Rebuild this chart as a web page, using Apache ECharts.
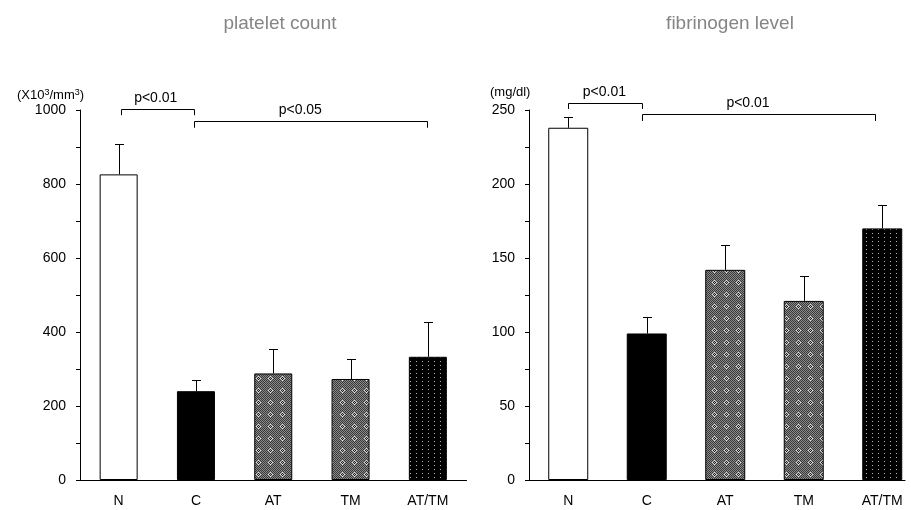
<!DOCTYPE html>
<html>
<head>
<meta charset="utf-8">
<script src="https://cdn.jsdelivr.net/npm/echarts@6/dist/echarts.min.js"></script>
<style>
html,body{margin:0;padding:0;background:#fff;}
#chart{width:911px;height:510px;}
</style>
</head>
<body>
<div id="chart"></div>
<script>
// ---------- data ----------
const categories = ['N', 'C', 'AT', 'TM', 'AT/TM'];
const plateletMean = [826, 240, 288, 273, 333];
const plateletSD = [83, 29, 66, 53, 93];
const fibrinogenMean = [238, 99, 142, 121, 170];
const fibrinogenSD = [7, 11, 17, 17, 16];
const plateletTicks = { min: 0, max: 1000, interval: 200 };
const fibrinogenTicks = { min: 0, max: 250, interval: 50 };
// brackets: [from category pos, to category pos, line level, drop level, text pos, label]
const plateletBrackets = [
  [0.03, 0.98, 1002, 986, 0.48, 'p<0.01'],
  [0.98, 3.99, 969, 952, 2.35, 'p<0.05']
];
const fibrinogenBrackets = [
  [0.0, 0.94, 254.7, 250.7, 0.46, 'p<0.01'],
  [0.94, 3.91, 247.3, 242.6, 2.29, 'p<0.01']
];

// ---------- patterns ----------
function makeChecker() {
  const c = document.createElement('canvas');
  c.width = 12; c.height = 12;
  const g = c.getContext('2d');
  for (let y = 0; y < 12; y++) for (let x = 0; x < 12; x++) {
    g.fillStyle = ((x + y) % 2 === 0) ? '#3a3a3a' : '#888888';
    g.fillRect(x, y, 1, 1);
  }
  const cx = 6, cy = 6;
  for (let dy = -2; dy <= 2; dy++) for (let dx = -2; dx <= 2; dx++) {
    const d = Math.abs(dx) + Math.abs(dy);
    if (d === 2 && (dx === 0 || dy === 0)) { g.fillStyle = '#e8e8e8'; g.fillRect(cx + dx, cy + dy, 1, 1); }
    else if (d === 2) { g.fillStyle = '#c4c4c4'; g.fillRect(cx + dx, cy + dy, 1, 1); }
    else if (d === 1) { g.fillStyle = '#1a1a1a'; g.fillRect(cx + dx, cy + dy, 1, 1); }
    else if (d === 0) { g.fillStyle = '#b0b0b0'; g.fillRect(cx + dx, cy + dy, 1, 1); }
  }
  return c;
}
function makeDots() {
  const c = document.createElement('canvas');
  c.width = 6; c.height = 4;
  const g = c.getContext('2d');
  g.fillStyle = '#000'; g.fillRect(0, 0, 6, 4);
  g.fillStyle = '#b4b4b4'; g.fillRect(2, 1, 1, 1);
  return c;
}
const checker = makeChecker();
const dots = makeDots();
const fills = ['#ffffff', '#000000', { image: checker, repeat: 'repeat' }, { image: checker, repeat: 'repeat' }, { image: dots, repeat: 'repeat' }];

const FONT = "'Liberation Sans', Arial, Helvetica, sans-serif";

function barSeries(means, idx, bw) {
  return {
    type: 'bar', xAxisIndex: idx, yAxisIndex: idx, barWidth: bw,
    data: means.map((v, i) => ({ value: [i, v], itemStyle: { color: fills[i] } })),
    itemStyle: { borderColor: '#000', borderWidth: 1 },
    silent: true, animation: false, z: 2
  };
}
function errSeries(means, sds, idx) {
  return {
    type: 'custom', xAxisIndex: idx, yAxisIndex: idx, z: 3, animation: false, silent: true,
    dimensions: ['x', 'm', 's'],
    encode: { x: 0, y: 1 },
    data: means.map((v, i) => [i, v, sds[i]]),
    renderItem: function (params, api) {
      const x = api.value(0), m = api.value(1), s = api.value(2);
      const p0 = api.coord([x, m]);
      const p1 = api.coord([x, m + s]);
      const st = { stroke: '#000', lineWidth: 1 };
      const lx = Math.round(p0[0]) + 0.5;
      const ty = Math.round(p1[1]) + 0.5;
      return { type: 'group', children: [
        { type: 'line', shape: { x1: lx, y1: p0[1], x2: lx, y2: ty }, style: st },
        { type: 'line', shape: { x1: lx - 4.5, y1: ty, x2: lx + 4.5, y2: ty }, style: st }
      ]};
    }
  };
}
function bracketSeries(brackets, idx) {
  return {
    type: 'custom', xAxisIndex: idx, yAxisIndex: idx, z: 4, animation: false, silent: true, clip: false,
    dimensions: ['a', 'b', 'y', 'd', 't'],
    encode: { x: [0, 1, 4], y: [2, 3] },
    data: brackets.map(b => [b[0], b[1], b[2], b[3], b[4]]),
    renderItem: function (params, api) {
      const a = api.coord([api.value(0), api.value(2)]);
      const b = api.coord([api.value(1), api.value(2)]);
      const ad = api.coord([api.value(0), api.value(3)]);
      const t = api.coord([api.value(4), api.value(2)]);
      const y = Math.round(a[1]) + 0.5;
      const ax = Math.round(a[0]) + 0.5, bx = Math.round(b[0]) + 0.5;
      return { type: 'group', children: [
        { type: 'polyline', shape: { points: [[ax, ad[1]], [ax, y], [bx, y], [bx, ad[1]]] },
          style: { stroke: '#000', lineWidth: 1, fill: null } },
        { type: 'text', style: { text: brackets[params.dataIndex][5], x: t[0], y: y - 11, align: 'center', verticalAlign: 'middle',
          font: '14px ' + FONT, fill: '#000' } }
      ]};
    }
  };
}
function xAxis(idx, max) {
  return {
    type: 'value', gridIndex: idx, min: -0.5, max: max,
    axisLine: { show: true, onZero: false, lineStyle: { color: '#000', width: 1 } },
    axisTick: { show: false },
    splitLine: { show: false },
    axisLabel: { customValues: [0, 1, 2, 3, 4], formatter: v => categories[Math.round(v)] || '',
      color: '#000', fontSize: 14, fontFamily: FONT, margin: 14 }
  };
}
function yAxis(idx, t) {
  return {
    type: 'value', gridIndex: idx, min: t.min, max: t.max, interval: t.interval,
    axisLine: { show: true, onZero: false, lineStyle: { color: '#000', width: 1 } },
    axisTick: { show: true, inside: false, length: 4, lineStyle: { color: '#000' } },
    minorTick: { show: true, splitNumber: 2, length: 4, lineStyle: { color: '#000' } },
    splitLine: { show: false },
    axisLabel: { color: '#000', fontSize: 14, fontFamily: FONT, margin: 14, formatter: v => String(v) }
  };
}

const chart = echarts.init(document.getElementById('chart'), null, { renderer: 'canvas' });
chart.setOption({
  backgroundColor: '#fff',
  animation: false,
  title: [
    { text: 'platelet count', left: 275, top: 9, textAlign: 'center',
      textStyle: { color: '#858585', fontSize: 19, fontWeight: 'normal', fontFamily: FONT } },
    { text: 'fibrinogen level', left: 725, top: 9, textAlign: 'center',
      textStyle: { color: '#858585', fontSize: 19, fontWeight: 'normal', fontFamily: FONT } },
    { text: '(X10{s|3}/mm{s|3})', left: 12, top: 83,
      textStyle: { color: '#000', fontSize: 13, fontWeight: 'normal', fontFamily: FONT,
        rich: { s: { fontSize: 9, verticalAlign: 'top', padding: [0, 0, 6, 0], fontFamily: FONT, color: '#000' } } } },
    { text: '(mg/dl)', left: 485, top: 81,
      textStyle: { color: '#000', fontSize: 13, fontWeight: 'normal', fontFamily: FONT } }
  ],
  grid: [
    { left: 80, top: 110, width: 386.5, height: 370 },
    { left: 529, top: 110, width: 376, height: 370 }
  ],
  xAxis: [xAxis(0, 4.5), xAxis(1, 4.29)],
  yAxis: [yAxis(0, plateletTicks), yAxis(1, fibrinogenTicks)],
  series: [
    barSeries(plateletMean, 0, 38),
    errSeries(plateletMean, plateletSD, 0),
    bracketSeries(plateletBrackets, 0),
    barSeries(fibrinogenMean, 1, 40),
    errSeries(fibrinogenMean, fibrinogenSD, 1),
    bracketSeries(fibrinogenBrackets, 1)
  ]
});
</script>
</body>
</html>
